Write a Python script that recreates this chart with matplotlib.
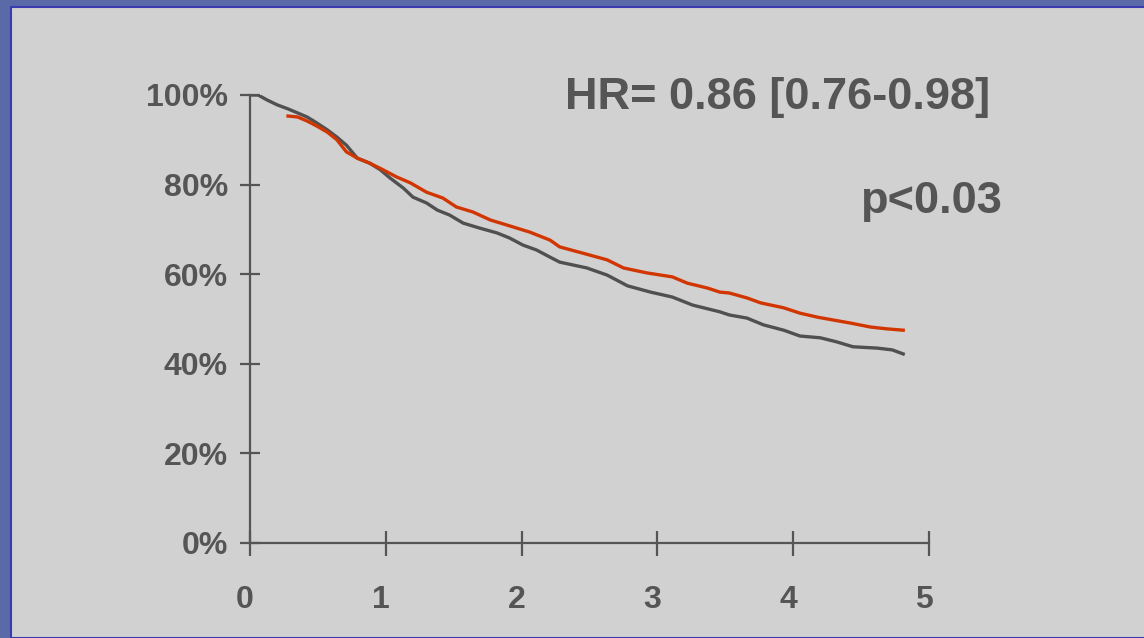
import matplotlib
matplotlib.use('Agg')
from matplotlib import pyplot as plt
from matplotlib.patches import Rectangle
from matplotlib.transforms import ScaledTranslation

plt.rcParams['font.family'] = ['Liberation Sans', 'DejaVu Sans']
plt.rcParams['font.weight'] = 'bold'

### Data (years, % surviving)
gray_t = [0, 0.06, 0.125, 0.2, 0.28, 0.35, 0.42, 0.49, 0.57, 0.64, 0.71, 0.74, 0.79,
          0.88, 0.96, 1.03, 1.13, 1.20, 1.30, 1.38, 1.47, 1.57, 1.69, 1.82, 1.91,
          2.01, 2.11, 2.21, 2.28, 2.48, 2.63, 2.78, 2.95, 3.11, 3.26, 3.46, 3.53,
          3.66, 3.78, 3.93, 4.05, 4.20, 4.32, 4.44, 4.62, 4.73, 4.81]
gray_s = [100, 100, 98.9, 97.8, 96.9, 96.0, 95.1, 93.8, 92.2, 90.6, 88.8, 87.7, 85.9,
          84.8, 83.3, 81.5, 79.2, 77.2, 75.9, 74.3, 73.2, 71.4, 70.3, 69.2, 68.1,
          66.5, 65.4, 63.8, 62.7, 61.4, 59.8, 57.4, 56.0, 54.9, 53.1, 51.6, 50.9,
          50.2, 48.7, 47.5, 46.2, 45.8, 44.9, 43.8, 43.5, 43.1, 42.2]

red_t = [0.28, 0.35, 0.42, 0.49, 0.57, 0.64, 0.71, 0.79, 0.88, 0.98, 1.08, 1.18,
         1.30, 1.42, 1.52, 1.64, 1.77, 1.91, 2.06, 2.21, 2.28, 2.45, 2.63, 2.75,
         2.92, 3.11, 3.22, 3.37, 3.46, 3.53, 3.66, 3.76, 3.93, 4.05, 4.18, 4.29,
         4.42, 4.57, 4.69, 4.81]
red_s = [95.3, 95.1, 94.2, 93.1, 91.7, 90.0, 87.3, 85.9, 84.8, 83.3, 81.7, 80.4,
         78.3, 77.0, 75.0, 73.9, 72.1, 70.8, 69.4, 67.6, 66.1, 64.7, 63.2, 61.4,
         60.3, 59.4, 58.0, 56.9, 56.0, 55.8, 54.7, 53.6, 52.5, 51.3, 50.4, 49.8,
         49.1, 48.2, 47.8, 47.5]

x_ticks = [0, 1, 2, 3, 4, 5]
y_ticks = [0, 20, 40, 60, 80, 100]
y_labels = ['0%', '20%', '40%', '60%', '80%', '100%']

W, H = 1144, 638
txt = '#555555'

### Slide background
fig = plt.figure(figsize=(W / 100, H / 100), dpi=100)
fig.patch.set_facecolor('#5a69a8')
fig.patches.append(Rectangle((11 / W, 0), 1, (H - 7) / H, transform=fig.transFigure,
                             facecolor='#d1d1d1', edgecolor='#3b3bb0', linewidth=1.5,
                             zorder=-10))

ax = fig.add_axes([250 / W, 95 / H, 679 / W, 448 / H])
ax.set_facecolor('none')

ax.plot(gray_t, gray_s, color='#505050', linewidth=2.4, zorder=3)
ax.plot(red_t, red_s, color='#d23600', linewidth=2.4, zorder=4)

ax.set_xlim(0, 5)
ax.set_ylim(0, 100)
ax.set_xticks(x_ticks)
ax.set_yticks(y_ticks)
ax.set_yticklabels(y_labels)

for s in ['top', 'right']:
    ax.spines[s].set_visible(False)
for s in ['left', 'bottom']:
    ax.spines[s].set_color('#555555')
    ax.spines[s].set_linewidth(1.6)

ax.tick_params(axis='x', direction='inout', length=18, width=1.6, color='#555555',
               labelsize=23, labelcolor=txt, pad=21)
ax.tick_params(axis='y', direction='inout', length=14, width=1.6, color='#555555',
               labelsize=23, labelcolor=txt, pad=9)

# x labels sit a little left of their ticks in the original
shift = ScaledTranslation(-5 / 100, 0, fig.dpi_scale_trans)
for lab in ax.get_xticklabels():
    lab.set_transform(lab.get_transform() + shift)

# Annotations
fig.text(565 / W, 1 - 98 / H, 'HR= 0.86 [0.76-0.98]', fontsize=32.5, fontweight='bold',
         color=txt, ha='left', va='center')
fig.text(1002 / W, 1 - 201 / H, 'p<0.03', fontsize=32.5, fontweight='bold',
         color=txt, ha='right', va='center')

plt.savefig('out.png', dpi=100, facecolor=fig.get_facecolor())
